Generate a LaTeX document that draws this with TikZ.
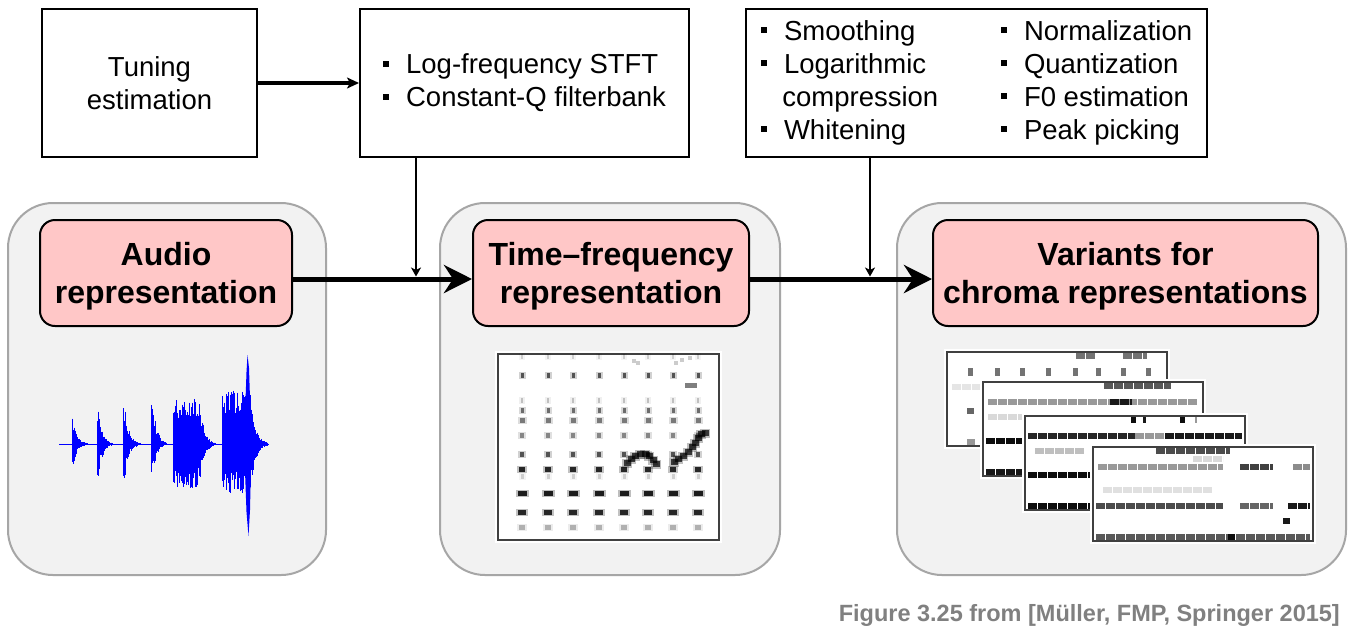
\documentclass[tikz,border=0pt]{standalone}
\usepackage{fontspec}
\setmainfont{Liberation Sans}
\usetikzlibrary{arrows.meta}

\definecolor{panelgray}{HTML}{F2F2F2}
\definecolor{panelline}{HTML}{A6A6A6}
\definecolor{titlepink}{HTML}{FFC7C7}
\definecolor{captiongray}{HTML}{808080}
\definecolor{wavblue}{HTML}{0000FF}

\newcommand{\boxfont}{\fontsize{27.5}{33}\selectfont}
\newcommand{\titlefont}{\fontsize{32}{38.5}\selectfont\bfseries}
\newcommand{\captionfont}{\fontsize{23.5}{28}\selectfont\bfseries}
\newcommand{\sqbul}{\rule[0.25em]{0.22em}{0.22em}\hspace{0.62em}}
\newcommand{\titletext}[2]{\raisebox{-4pt}[\height][\depth]{\begin{tabular}{@{}c@{}}#1\\#2\end{tabular}}}

\newcommand{\wavburst}[5]{%
	\foreach \t in {0,0.8,...,#2}{%
		\pgfmathsetmacro{\wenv}{exp(-3.5*max(\t-#5,0)/(#2-#5))}%
		\pgfmathsetmacro{\wup}{#3*\wenv*(0.55+0.45*rnd)}%
		\pgfmathsetmacro{\wdn}{#4*\wenv*(0.55+0.45*rnd)}%
		\draw[wave] (#1+\t,444-\wup) -- (#1+\t,444+\wdn);}}

\newcommand{\chromaframe}[2]{%
	\fill[white] (#1-3,#2-3) rectangle (#1+223,#2+97);
	\draw[specframe,fill=white] (#1,#2) rectangle (#1+220,#2+94);}

\begin{document}
\begin{tikzpicture}[x=1pt,y=-1pt,
	box/.style={draw=black,line width=2pt,fill=white,inner sep=0pt,font=\boxfont},
	panel/.style={draw=panelline,line width=2pt,fill=panelgray,rounded corners=45pt,minimum height=372pt,inner sep=0pt},
	title/.style={draw=black,line width=2pt,fill=titlepink,rounded corners=15pt,minimum height=106pt,inner sep=0pt,font=\titlefont},
	tunearrow/.style={line width=3.2pt,-{Stealth[length=12pt,width=11pt,inset=3pt]}},
	feedarrow/.style={line width=2.8pt,-{Stealth[length=9pt,width=10pt,inset=2.5pt]}},
	flowarrow/.style={line width=5pt,-{Stealth[length=28pt,width=28pt,inset=9pt]}},
	wave/.style={wavblue,line width=0.9pt},
	specframe/.style={draw=black!75,line width=1.5pt},
	chromabar/.style={line width=6pt,dash pattern=on 8.5pt off 1.5pt}]
	\useasboundingbox (0,0) rectangle (1356,633);
	\fill[white] (0,0) rectangle (1356,633);

	\node[box,minimum width=215pt,minimum height=148pt,align=center] (tune) at (149.5,83) {Tuning\\estimation};
	\node[box,minimum width=329pt,minimum height=148pt,align=left] (logf) at (524.5,83) {\sqbul Log-frequency STFT\\\sqbul Constant-Q filterbank};
	\node[box,minimum width=461pt,minimum height=148pt] (post) at (976.5,83) {%
		\begin{tabular}{@{}p{240pt}@{}l@{}}
		\sqbul Smoothing & \sqbul Normalization\\
		\sqbul Logarithmic & \sqbul Quantization\\
		\hspace{0.78em}compression & \sqbul F0 estimation\\
		\sqbul Whitening & \sqbul Peak picking
		\end{tabular}};

	\node[panel,minimum width=318pt] (audiobg) at (167,389) {};
	\node[panel,minimum width=340pt] (tfbg) at (610,389) {};
	\node[panel,minimum width=449pt] (chromabg) at (1121.5,389) {};

	\node[title,minimum width=252pt] (audio) at (166,273) {\titletext{Audio}{representation}};
	\node[title,minimum width=276pt] (tf) at (611,273) {\titletext{Time–frequency}{representation}};
	\node[title,minimum width=385pt] (chroma) at (1125.5,273) {\titletext{Variants for}{chroma representations}};

	\coordinate (j1) at (416,279);
	\coordinate (j2) at (870,279);
	\draw[tunearrow] (tune.east) -- (logf.west);
	\draw[feedarrow] (logf.south -| j1) -- ([yshift=2.5pt]j1);
	\draw[feedarrow] (post.south -| j2) -- ([yshift=2.5pt]j2);
	\draw[flowarrow] (audio.east |- j1) -- (tf.west |- j1);
	\draw[flowarrow] (tf.east |- j2) -- (chroma.west |- j2);

	\pgfmathsetseed{7}
	\draw[wave] (59,444) -- (269,444);
	\wavburst{72}{16}{27}{24}{1}
	\wavburst{97.5}{16}{33}{33}{1}
	\wavburst{123.5}{17}{40}{35}{1}
	\wavburst{151}{16}{50}{37}{1}
	\wavburst{173.5}{42}{45}{44}{26}
	\wavburst{222}{46}{54}{50}{28}
	\fill[wavblue] (244,444) -- (246.5,372) -- (247.5,355) -- (249,368) -- (251.5,444) -- (250,510) -- (248.5,536) -- (246.5,512) -- cycle;

	\fill[white] (495,351) rectangle (722,543);
	\draw[specframe] (498,354) rectangle (719,540);
	\foreach \cx in {522,548,573,599,624,648,673,698}{
		\foreach \cy/\w/\op in {356.7/2/0.15,375.7/3/0.6,400/2/0.2,410.7/3/0.5,420.3/5/0.45,435/4/0.4,454.3/4/0.6,469/6/0.8,476.7/3/0.15,493.3/9/0.85,512.7/8/0.8,527.3/6/0.25}{
			\fill[black,opacity=0.3*\op] (\cx-\w/2-2,\cy-3.5) rectangle (\cx+\w/2+2,\cy+3.5);
			\fill[black,opacity=\op] (\cx-\w/2,\cy-2.5) rectangle (\cx+\w/2,\cy+2.5);
		}
	}
	\foreach \mx/\my in {627/463,631/459,635/456,640/454,645/454,649/456,653/460,656/464,674/462,678/459,683/456,688/452,692/447,695/443,698/438,701/434,705/433}{
		\fill[black,opacity=0.25] (\mx-5,\my-4.5) rectangle (\mx+5,\my+4.5);
		\fill[black,opacity=0.7] (\mx-3.5,\my-3) rectangle (\mx+3.5,\my+3);
	}
	\fill[black,opacity=0.5] (685,383) rectangle (697,388);
	\foreach \mx/\my in {634/361,638/363,676/363,682/360,690/358}{
		\fill[black,opacity=0.2] (\mx-2,\my-2) rectangle (\mx+2,\my+2);
	}

	\chromaframe{947}{352}
	\foreach \r/\a/\b/\g in {1/129/149/55,1/176/200/55,8/20/27/60,12/20/28/40,5/5/35/10}
		\draw[chromabar,black!\g] (947+\a,352+7.83*\r-3.9) -- (947+\b,352+7.83*\r-3.9);
	\foreach \a in {23,50,75,101,128,151,176,201}
		\fill[black!55] (947+\a-2.5,352+15.7) rectangle (947+\a+2.5,352+23.5);

	\chromaframe{983}{382}
	\foreach \r/\a/\b/\g in {5/5/215/15,1/121/188/65,3/5/215/40,3/127/149/90,8/3/100/95,12/3/100/90}
		\draw[chromabar,black!\g] (983+\a,382+7.83*\r-3.9) -- (983+\b,382+7.83*\r-3.9);

	\chromaframe{1025}{416}
	\foreach \r/\a/\b/\g in {5/10/60/25,1/106/111/95,1/118/121/90,1/155/160/95,1/170/172/40,3/3/110/85,3/110/140/40,3/140/217/90,8/3/70/95,12/3/70/95}
		\draw[chromabar,black!\g] (1025+\a,416+7.83*\r-3.9) -- (1025+\b,416+7.83*\r-3.9);

	\chromaframe{1093}{447}
	\foreach \r/\a/\b/\g in {6/10/120/12,2/100/130/15,1/63/137/70,3/5/130/40,3/147/180/75,3/200/217/45,8/3/130/70,8/147/180/60,8/195/217/90,10/190/197/90,12/3/217/65,12/135/142/95}
		\draw[chromabar,black!\g] (1093+\a,447+7.83*\r-3.9) -- (1093+\b,447+7.83*\r-3.9);

	\node[anchor=base east,inner sep=0pt,font=\captionfont,text=captiongray] (caption) at (1340,621) {Figure 3.25 from [Müller, FMP, Springer 2015]};
\end{tikzpicture}
\end{document}
